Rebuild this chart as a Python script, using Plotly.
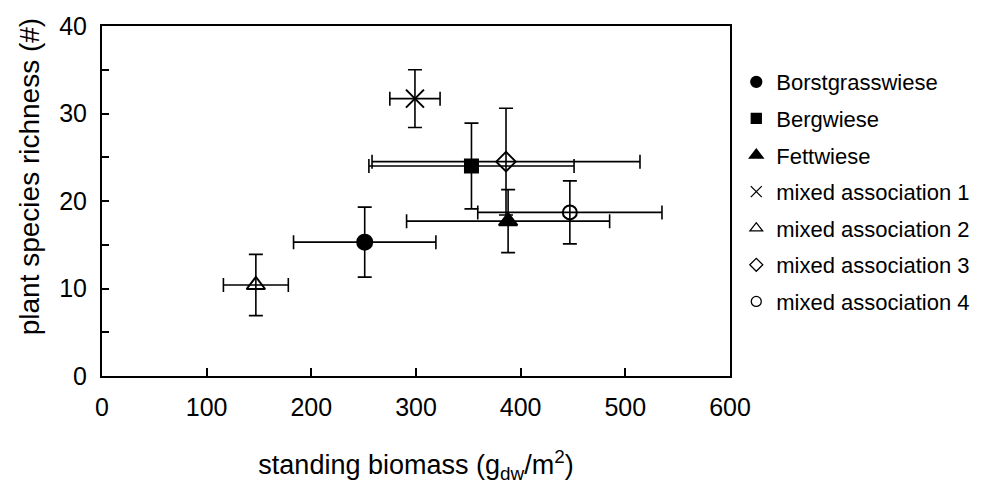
import plotly.graph_objects as go

# Grassland types and their mean standing biomass / species richness (± error)
names = [
    "Borstgrasswiese",
    "Bergwiese",
    "Fettwiese",
    "mixed association 1",
    "mixed association 2",
    "mixed association 3",
    "mixed association 4",
]
biomass = [251, 353, 388, 299, 147, 386, 447]
biomass_err = [68, 98, 97, 24, 31, 128, 88]
richness = [15.3, 24.0, 17.7, 31.7, 10.4, 24.5, 18.7]
richness_err = [4.0, 4.9, 3.6, 3.3, 3.5, 6.1, 3.6]

symbols = [
    "circle",
    "square",
    "triangle-up",
    "x-thin-open",
    "triangle-up-open",
    "diamond-open",
    "circle-open",
]
sizes = [15, 13, 16, 18, 16, 15, 14]
legend_sizes = [11, 10, 12, 11, 11, 10, 10]

FONT = "Liberation Sans, Arial, sans-serif"

fig = go.Figure()
for i, name in enumerate(names):
    # data point with both error bars
    fig.add_trace(
        go.Scatter(
            x=[biomass[i]],
            y=[richness[i]],
            mode="markers",
            name=name,
            legendgroup=name,
            showlegend=False,
            marker=dict(
                symbol=symbols[i],
                size=sizes[i],
                color="black",
                line=dict(color="black", width=2),
            ),
            error_x=dict(type="data", array=[biomass_err[i]], color="black",
                         thickness=1.6, width=7),
            error_y=dict(type="data", array=[richness_err[i]], color="black",
                         thickness=1.6, width=7),
        )
    )
    # smaller symbol for the legend key
    fig.add_trace(
        go.Scatter(
            x=[None],
            y=[None],
            mode="markers",
            name=name,
            legendgroup=name,
            marker=dict(
                symbol=symbols[i],
                size=legend_sizes[i],
                color="black",
                line=dict(color="black", width=1.3),
            ),
        )
    )

# y-axis title as a rotated annotation so it can sit a little above centre
fig.add_annotation(
    text="plant species richness (#)",
    xref="paper", yref="paper",
    x=-0.115, y=0.57,
    xanchor="center", yanchor="middle",
    textangle=-90,
    showarrow=False,
    font=dict(size=28, family=FONT, color="black"),
)

fig.update_layout(
    width=999,
    height=501,
    margin=dict(l=102, r=269, t=20, b=125),
    paper_bgcolor="white",
    plot_bgcolor="white",
    font=dict(family=FONT, color="black"),
    showlegend=True,
    legend=dict(
        x=1.01, y=0.90, xanchor="left", yanchor="top",
        font=dict(size=22, family=FONT),
        tracegroupgap=5,
        itemwidth=30,
        bgcolor="rgba(0,0,0,0)",
    ),
    xaxis=dict(
        range=[0, 600],
        dtick=100,
        tick0=0,
        ticks="inside",
        ticklen=8,
        tickwidth=1.5,
        tickcolor="black",
        showline=True,
        linecolor="black",
        linewidth=2,
        mirror=True,
        showgrid=False,
        zeroline=False,
        tickfont=dict(size=25),
        ticklabelstandoff=8,
        title=dict(text="standing biomass (g<sub>dw</sub>/m<sup>2</sup>)",
                   font=dict(size=27), standoff=35),
    ),
    yaxis=dict(
        range=[0, 40],
        dtick=10,
        tick0=0,
        ticks="inside",
        ticklen=7,
        tickwidth=1.5,
        tickcolor="black",
        minor=dict(dtick=5, ticks="inside", ticklen=7, tickwidth=1.5,
                   tickcolor="black", showgrid=False),
        showline=True,
        linecolor="black",
        linewidth=2,
        mirror=True,
        showgrid=False,
        zeroline=False,
        tickfont=dict(size=25),
        ticklabelstandoff=8,
    ),
)

fig.write_html("out.html")
